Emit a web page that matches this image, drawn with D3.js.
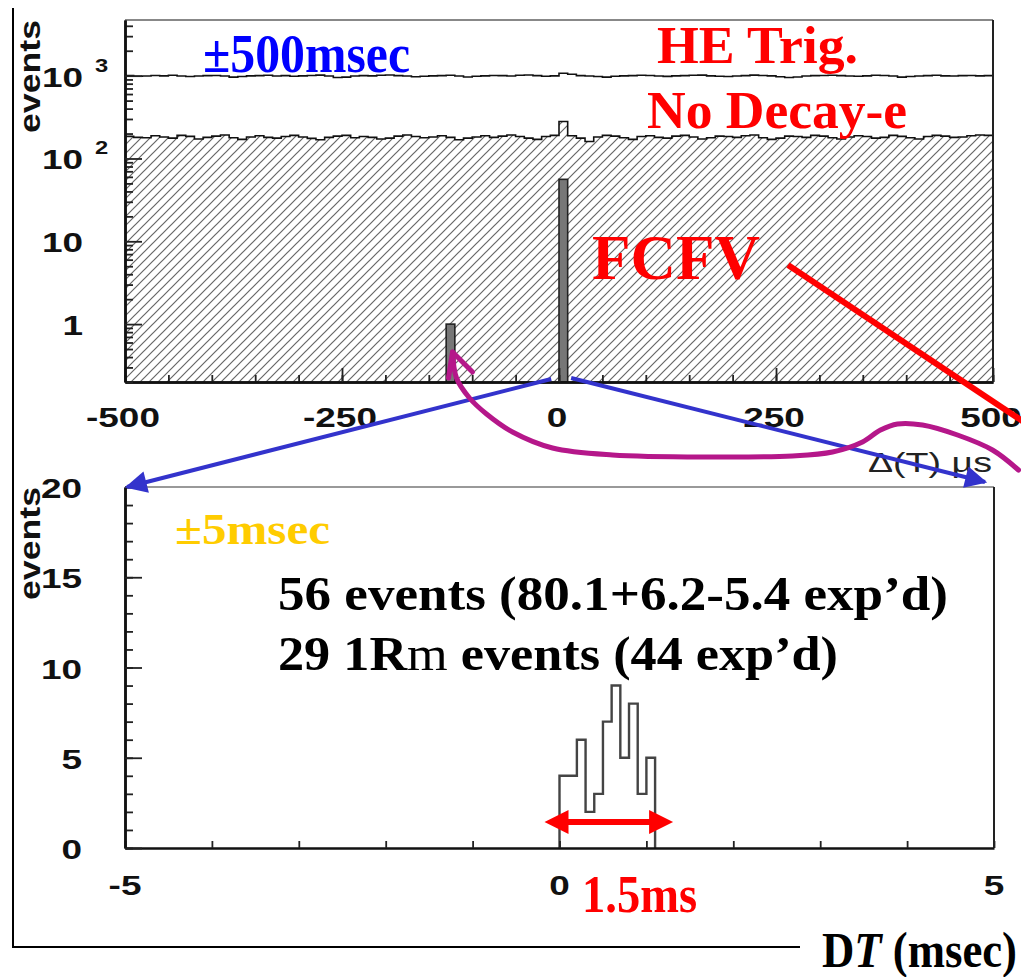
<!DOCTYPE html>
<html>
<head>
<meta charset="utf-8">
<script src="https://cdn.jsdelivr.net/npm/d3@7"></script>
<style>
body { margin: 0; background: #fff; }
svg { display: block; }
</style>
</head>
<body>
<svg id="chart" width="1021" height="977"></svg>
<script>
// ---- top panel: +-500 usec window, 10 usec bins ----
var topBinStart = -500, topBinWidth = 10;
var heTrig = [
    1000, 985, 990, 1005, 995, 1010, 990, 975, 990, 1000,
    1005, 990, 960, 975, 995, 1000, 1010, 990, 1000, 985,
    995, 1005, 1015, 990, 950, 960, 990, 1000, 995, 1010,
    1020, 1000, 990, 970, 985, 995, 1000, 1010, 990, 965,
    985, 995, 1005, 1000, 990, 1010, 1020, 1000, 985, 995,
    1070, 1040, 1000, 990, 975, 960, 985, 995, 1000, 1010,
    1005, 990, 980, 995, 1000, 1010, 1015, 995, 985, 975,
    990, 1000, 1015, 1005, 995, 970, 950, 965, 990, 1000,
    1005, 1010, 1000, 990, 985, 995, 1010, 1005, 990, 960,
    975, 990, 1000, 1010, 995, 990, 1000, 1005, 995, 1000
];
var noDecay = [
    185, 180, 178, 188, 182, 176, 190, 185, 172, 180,
    186, 192, 178, 170, 182, 188, 180, 176, 184, 190,
    182, 175, 168, 180, 186, 190, 178, 184, 180, 172,
    176, 186, 192, 184, 178, 182, 188, 180, 168, 176,
    182, 188, 180, 186, 192, 184, 176, 170, 184, 190,
    280, 188, 176, 160, 182, 190, 186, 178, 170, 184,
    188, 180, 176, 186, 190, 182, 172, 178, 186, 184,
    180, 188, 192, 178, 170, 176, 186, 184, 180, 190,
    186, 178, 172, 182, 188, 184, 176, 180, 190, 185,
    178, 172, 184, 190, 186, 180, 182, 188, 192, 190
];
var fcfvBins = [-130, 0];
var fcfvCounts = [1, 56];
var topXLabels = [-500, -250, 0, 250, 500];
var topYTicks = [1, 10, 100, 1000];
var topYText = ["1", "10", "10", "10"];
var topYSup = ["", "", "2", "3"];

// ---- bottom panel: +-5 msec window, 0.1 msec bins ----
var lowBins = [0, 0.1, 0.2, 0.3, 0.4, 0.5, 0.6, 0.7, 0.8, 0.9, 1.0];
var lowBinWidth = 0.1;
var lowCounts = [4, 4, 6, 2, 3, 7, 9, 5, 8, 3, 5];
var lowXLabels = [-5, 0, 5];
var lowYLabels = [0, 5, 10, 15, 20];

var svg = d3.select("#chart");
var sans = "'Liberation Sans', Arial, Helvetica, sans-serif";
var serif = "'Liberation Serif', 'Times New Roman', Times, serif";

var defs = svg.append("defs");
defs.append("pattern")
    .attr("id", "hatch")
    .attr("patternUnits", "userSpaceOnUse")
    .attr("width", 9).attr("height", 9)
    .append("path")
    .attr("d", "M0,9 L9,0 M-2,2 L2,-2 M7,11 L11,7")
    .attr("stroke", "#666").attr("stroke-width", 1.2);
defs.append("clipPath").attr("id", "clipTop")
    .append("rect").attr("x", 125).attr("y", 20).attr("width", 868).attr("height", 362);
defs.append("marker")
    .attr("id", "blueHead")
    .attr("viewBox", "0 0 10 10")
    .attr("refX", 9).attr("refY", 5)
    .attr("markerWidth", 7).attr("markerHeight", 5.5)
    .attr("markerUnits", "strokeWidth")
    .attr("orient", "auto")
    .append("path").attr("d", "M0,0 L10,5 L0,10 Z").attr("fill", "#3333cc");

// ================= top panel =================
var xT = d3.scaleLinear().domain([-500, 500]).range([125, 993]);
var yT = d3.scaleLog().domain([0.2, 4700]).range([382, 20]);

function stepPoints(values, start, width) {
    var pts = [];
    values.forEach(function(v, i) {
        pts.push([start + i * width, v]);
        pts.push([start + (i + 1) * width, v]);
    });
    return pts;
}

var gTop = svg.append("g").attr("clip-path", "url(#clipTop)");
var ndPts = stepPoints(noDecay, topBinStart, topBinWidth);
gTop.append("path")
    .attr("d", d3.area().x(function(d) { return xT(d[0]); })
        .y0(yT(0.2)).y1(function(d) { return yT(d[1]); })(ndPts))
    .attr("fill", "url(#hatch)");
gTop.append("path")
    .attr("d", d3.line().x(function(d) { return xT(d[0]); })
        .y(function(d) { return yT(d[1]); })(ndPts))
    .attr("fill", "none").attr("stroke", "#111").attr("stroke-width", 1.6);
gTop.append("path")
    .attr("d", d3.line().x(function(d) { return xT(d[0]); })
        .y(function(d) { return yT(d[1]); })(stepPoints(heTrig, topBinStart, topBinWidth)))
    .attr("fill", "none").attr("stroke", "#111").attr("stroke-width", 1.6);
gTop.selectAll("rect.fcfv")
    .data(fcfvBins)
    .enter().append("rect")
    .attr("class", "fcfv")
    .attr("x", function(d) { return xT(d); })
    .attr("width", function(d) { return xT(d + topBinWidth) - xT(d); })
    .attr("y", function(d, i) { return yT(fcfvCounts[i]); })
    .attr("height", function(d, i) { return yT(0.2) - yT(fcfvCounts[i]); })
    .attr("fill", "#777").attr("stroke", "#222").attr("stroke-width", 1.6);

// frame
svg.append("line").attr("x1", 125).attr("x2", 993).attr("y1", 20).attr("y2", 20)
    .attr("stroke", "#888").attr("stroke-width", 2);
svg.append("line").attr("x1", 993).attr("x2", 993).attr("y1", 20).attr("y2", 382)
    .attr("stroke", "#222").attr("stroke-width", 2);

// axes (ticks inward)
var topMinorX = d3.range(-500, 501, 50);
svg.append("g").attr("transform", "translate(0,382)")
    .call(d3.axisBottom(xT).tickValues(topMinorX).tickSize(-7).tickSizeOuter(0).tickFormat(""));
svg.append("g").attr("transform", "translate(0,382)")
    .call(d3.axisBottom(xT).tickValues(topXLabels).tickSize(-14).tickSizeOuter(0).tickFormat(""));
var topMinorY = [];
[0.1, 1, 10, 100, 1000].forEach(function(dec) {
    for (var k = 2; k <= 9; k++) {
        var v = dec * k;
        if (v >= 0.2 && v <= 4700) topMinorY.push(v);
    }
});
svg.append("g").attr("transform", "translate(125,0)")
    .call(d3.axisLeft(yT).tickValues(topMinorY).tickSize(-8).tickSizeOuter(0).tickFormat(""));
svg.append("g").attr("transform", "translate(125,0)")
    .call(d3.axisLeft(yT).tickValues(topYTicks).tickSize(-17).tickSizeOuter(0).tickFormat(""));

// ================= bottom panel =================
var xB = d3.scaleLinear().domain([-5, 5]).range([125, 994]);
var yB = d3.scaleLinear().domain([0, 20]).range([848, 487]);

var lowPts = [[lowBins[0], 0]];
lowCounts.forEach(function(c, i) {
    lowPts.push([lowBins[i], c]);
    lowPts.push([lowBins[i] + lowBinWidth, c]);
});
lowPts.push([lowBins[lowBins.length - 1] + lowBinWidth, 0]);
svg.append("path")
    .attr("d", d3.line().x(function(d) { return xB(d[0]); })
        .y(function(d) { return yB(d[1]); })(lowPts))
    .attr("fill", "none").attr("stroke", "#444").attr("stroke-width", 2.4);

svg.append("line").attr("x1", 125).attr("x2", 994).attr("y1", 487).attr("y2", 487)
    .attr("stroke", "#999").attr("stroke-width", 2);
svg.append("line").attr("x1", 994).attr("x2", 994).attr("y1", 487).attr("y2", 848)
    .attr("stroke", "#222").attr("stroke-width", 2);

svg.append("g").attr("transform", "translate(0,848)")
    .call(d3.axisBottom(xB).tickValues(d3.range(-5, 6, 1)).tickSize(-7).tickSizeOuter(0).tickFormat(""));
svg.append("g").attr("transform", "translate(125,0)")
    .call(d3.axisLeft(yB).tickValues(d3.range(0, 21, 1)).tickSize(-8).tickSizeOuter(0).tickFormat(""));
svg.append("g").attr("transform", "translate(125,0)")
    .call(d3.axisLeft(yB).tickValues(lowYLabels).tickSize(-17).tickSizeOuter(0).tickFormat(""));

svg.selectAll(".domain").attr("stroke", "#111").attr("stroke-width", 2.5);
svg.selectAll(".tick line").attr("stroke", "#222").attr("stroke-width", 1.8);

// ---- tick labels (stretched sans, like the original plot) ----
function sansLabel(x, y, txt, anchor, size) {
    return svg.append("text")
        .attr("transform", "translate(" + x + "," + y + ") scale(1.32,1)")
        .attr("text-anchor", anchor)
        .attr("font-family", sans).attr("font-weight", "bold")
        .attr("font-size", size || 28).attr("fill", "#111")
        .text(txt);
}
topXLabels.forEach(function(v) { sansLabel(xT(v) - 2, 427, v, "middle"); });
topYTicks.forEach(function(v, i) {
    sansLabel(83, yT(v) + 11, topYText[i], "end");
    if (topYSup[i]) sansLabel(95, yT(v) - 4, topYSup[i], "start", 18);
});
lowXLabels.forEach(function(v) { sansLabel(xB(v), 895, v, "middle"); });
lowYLabels.forEach(function(v) { sansLabel(82, yB(v) + 11, v, "end"); });

// y titles
[[133, 20], [600, 487]].forEach(function(p) {
    svg.append("text")
        .attr("transform", "translate(40," + p[0] + ") rotate(-90)")
        .attr("font-family", sans).attr("font-weight", "bold").attr("font-size", 29)
        .attr("fill", "#111")
        .attr("textLength", p[0] - p[1]).attr("lengthAdjust", "spacingAndGlyphs")
        .text("events");
});
svg.append("text")
    .attr("x", 868).attr("y", 472)
    .attr("font-family", sans).attr("font-size", 27).attr("fill", "#222")
    .attr("textLength", 124).attr("lengthAdjust", "spacingAndGlyphs")
    .text("\u0394(T) \u00b5s");

// ---- outer slide lines ----
svg.append("line").attr("x1", 13).attr("x2", 13).attr("y1", 8).attr("y2", 948)
    .attr("stroke", "#000").attr("stroke-width", 2);
svg.append("line").attr("x1", 13).attr("x2", 800).attr("y1", 947).attr("y2", 947)
    .attr("stroke", "#000").attr("stroke-width", 2);

// ---- annotation texts ----
function serifText(x, y, size, color, len, txt) {
    return svg.append("text")
        .attr("x", x).attr("y", y)
        .attr("font-family", serif).attr("font-weight", "bold")
        .attr("font-size", size).attr("fill", color)
        .attr("textLength", len).attr("lengthAdjust", "spacingAndGlyphs")
        .text(txt);
}
serifText(203, 72, 55, "#0000ff", 207, "\u00b1500msec");
serifText(657, 63, 53, "#ff0000", 201, "HE Trig.");
serifText(647, 128, 53, "#ff0000", 260, "No Decay-e");
serifText(592, 279, 64, "#ff0000", 168, "FCFV");
serifText(175, 544, 44, "#ffcc00", 155, "\u00b15msec");
serifText(278, 610, 49, "#000", 670, "56 events (80.1+6.2-5.4 exp\u2019d)");
var l2 = svg.append("text")
    .attr("x", 278).attr("y", 670)
    .attr("font-family", serif).attr("font-weight", "bold")
    .attr("font-size", 49).attr("fill", "#000")
    .attr("textLength", 560).attr("lengthAdjust", "spacingAndGlyphs");
l2.append("tspan").text("29 1R");
l2.append("tspan").attr("font-weight", "normal").text("m");
l2.append("tspan").text(" events (44 exp\u2019d)");

serifText(582, 912, 52, "#ff0000", 115, "1.5ms");
var dt = svg.append("text")
    .attr("x", 822).attr("y", 967)
    .attr("font-family", serif).attr("font-weight", "bold")
    .attr("font-size", 50).attr("fill", "#000")
    .attr("textLength", 195).attr("lengthAdjust", "spacingAndGlyphs");
dt.append("tspan").text("D");
dt.append("tspan").attr("font-style", "italic").text("T");
dt.append("tspan").text(" (msec)");

// ---- arrows ----
// red 1.5 ms double arrow under the bottom histogram
var arrY = 822;
var arrL = xB(lowBins[0]) - 15, arrR = xB(lowBins[lowBins.length - 1] + lowBinWidth) + 18;
svg.append("line").attr("x1", arrL + 18).attr("x2", arrR - 18).attr("y1", arrY).attr("y2", arrY)
    .attr("stroke", "#ff0000").attr("stroke-width", 6);
svg.append("path")
    .attr("d", "M" + arrL + "," + arrY + " L" + (arrL + 24) + "," + (arrY - 12) + " L" + (arrL + 24) + "," + (arrY + 12) + " Z" +
        "M" + arrR + "," + arrY + " L" + (arrR - 24) + "," + (arrY - 12) + " L" + (arrR - 24) + "," + (arrY + 12) + " Z")
    .attr("fill", "#ff0000");

// blue zoom lines from the 0 bin down to the bottom panel corners
svg.append("line")
    .attr("x1", xT(-9)).attr("y1", yT(0.2) - 3)
    .attr("x2", xB(-5) + 2).attr("y2", yB(20))
    .attr("stroke", "#3333cc").attr("stroke-width", 4).attr("marker-end", "url(#blueHead)");
svg.append("line")
    .attr("x1", xT(14)).attr("y1", yT(0.2) - 4)
    .attr("x2", xB(5) - 9).attr("y2", yB(20) - 5)
    .attr("stroke", "#3333cc").attr("stroke-width", 4).attr("marker-end", "url(#blueHead)");

// red pointer from FCFV
svg.append("line")
    .attr("x1", 788).attr("y1", 265).attr("x2", 1045).attr("y2", 436)
    .attr("stroke", "#ff0000").attr("stroke-width", 6);

// magenta hand-drawn curve to the -130 us bin
var tipX = xT(fcfvBins[0] + 5) + 2, tipY = yT(0.2) - 30;
var curve = [
    [tipX, tipY], [tipX + 4, tipY + 26], [tipX + 17, tipY + 46], [tipX + 34, tipY + 62],
    [tipX + 60, tipY + 80], [tipX + 100, tipY + 96], [tipX + 160, tipY + 103],
    [tipX + 260, tipY + 105], [tipX + 340, tipY + 104], [tipX + 380, tipY + 100],
    [tipX + 410, tipY + 90], [tipX + 428, tipY + 78], [tipX + 445, tipY + 72],
    [tipX + 470, tipY + 73], [tipX + 505, tipY + 83], [tipX + 540, tipY + 98],
    [tipX + 566, tipY + 118]
];
svg.append("path")
    .attr("d", d3.line().curve(d3.curveCatmullRom)(curve))
    .attr("fill", "none").attr("stroke", "#b5178a").attr("stroke-width", 5)
    .attr("stroke-linecap", "round");
svg.append("path")
    .attr("d", "M" + (tipX - 4) + "," + (tipY + 26) + " L" + tipX + "," + tipY + " L" + (tipX + 20) + "," + (tipY + 20))
    .attr("fill", "none").attr("stroke", "#b5178a").attr("stroke-width", 5)
    .attr("stroke-linecap", "round").attr("stroke-linejoin", "round");
</script>
</body>
</html>
